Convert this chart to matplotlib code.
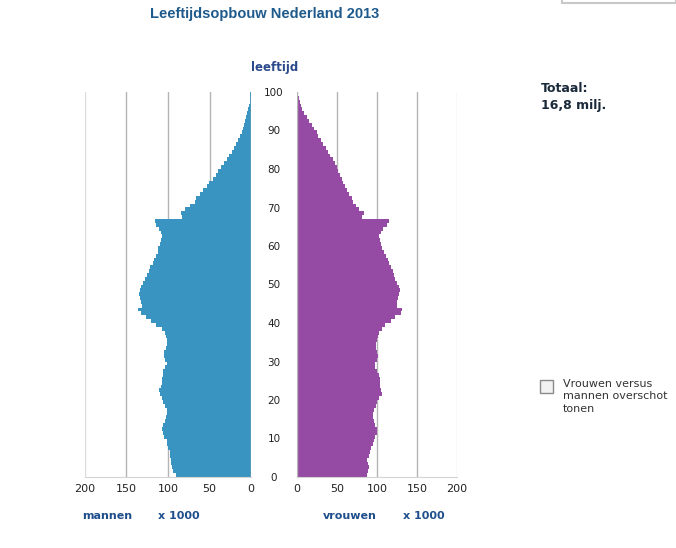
import matplotlib.pyplot as plt
from matplotlib.patches import Rectangle

# leeftijden 0 t/m 99, aantallen x 1000
ages = list(range(100))

mannen = [
    90, 93.5, 95.5, 96, 96, 97, 97.5, 99.5, 101, 101.5,
    104.5, 106.5, 107.5, 105.5, 103.5, 102.5, 101.5, 101.5, 103.5, 105.5,
    107.5, 110, 110.5, 109, 107.5, 107.5, 106.5, 105.5, 103.5, 101.5,
    103.5, 105, 104.5, 103, 101.5, 101.5, 102, 103.5, 107.5, 115,
    121, 127, 133, 136, 131, 132, 134, 135, 134, 132,
    130, 128, 125.5, 123, 121.5, 118.5, 116.5, 114.5, 112.5, 111.5,
    110, 108.5, 107.5, 108.5, 111, 114, 116, 83, 84.5, 79,
    73, 68, 66, 61, 58, 53, 51, 46, 42.5, 39.5,
    36, 32.5, 29.5, 26.5, 23, 20, 18, 15.5, 13, 11,
    9.5, 8, 7, 5.5, 4.5, 3.2, 2.4, 1.6, 1.2, 0.8,
]

vrouwen = [
    87, 89, 89.5, 89, 88, 89.5, 91, 93, 94.5, 96,
    97.5, 100, 99.5, 97.5, 96, 95.5, 94.5, 96, 99, 100.5,
    103, 106, 105, 104, 104, 104, 103, 100.5, 98, 97.5,
    99.5, 101.5, 100.5, 99, 99, 99.5, 101, 103, 106, 110,
    117, 122.5, 130, 131, 125.5, 125.5, 126, 128, 129, 128,
    125.5, 123, 121, 119.5, 118, 115.5, 113.5, 111, 109, 106.5,
    105, 103.5, 103, 104.5, 107, 112, 114.5, 81.5, 84, 78,
    74, 70.5, 69, 65.5, 62, 60, 58, 56, 54, 51.5,
    50.5, 47.5, 44.5, 41, 39, 36, 33, 29.5, 26.5, 24.5,
    21, 18.5, 15.5, 12, 9, 6.5, 4.5, 3.5, 2.5, 1.7,
]

x_ticks = [0, 50, 100, 150, 200]
age_ticks = list(range(0, 101, 10))

W, H = 676, 548
fig = plt.figure(figsize=(W / 100, H / 100), dpi=100)


def fx(px):
    return px / W


def fy(py):
    return 1 - py / H


ax_m = fig.add_axes([fx(85), fy(477), fx(251) - fx(85), (477 - 92) / H])
ax_v = fig.add_axes([fx(297), fy(477), fx(457) - fx(297), (477 - 92) / H])

for ax, data, kleur in [(ax_m, mannen, '#3a94c1'), (ax_v, vrouwen, '#954ba3')]:
    ax.barh(ages, data, height=1, align='edge', color=kleur, linewidth=0, zorder=2)
    ax.set_xlim(0, 200)
    ax.set_ylim(0, 100)
    for t in [50, 100, 150]:
        ax.axvline(t, color='#b4b4b4', lw=1, zorder=1)
    ax.axvline(200, color='#dcdcdc', lw=1, zorder=1)
    ax.axvline(0, color='#b4b4b4', lw=1, zorder=3)
    for s in ['top', 'left', 'right']:
        ax.spines[s].set_visible(False)
    ax.spines['bottom'].set_color('#d4d4d4')
    ax.set_xticks(x_ticks)
    ax.set_xticklabels([str(t) for t in x_ticks])
    ax.tick_params(axis='x', length=0, pad=5, labelsize=8, labelcolor='#222222')
    ax.set_yticks([])

ax_m.invert_xaxis()

# leeftijdslabels tussen de twee helften
ax_v.set_yticks(age_ticks)
ax_v.set_yticklabels([str(a) for a in age_ticks])
ax_v.tick_params(axis='y', length=0, pad=16.5, labelsize=7.5, labelcolor='#222222')
for lab in ax_v.get_yticklabels():
    lab.set_horizontalalignment('center')

fig.text(fx(265), fy(14), 'Leeftijdsopbouw Nederland 2013', ha='center', va='center',
         fontsize=10.5, fontweight='bold', color='#1e5a8c', family='Liberation Sans')
fig.text(fx(275), fy(67), 'leeftijd', ha='center', va='center',
         fontsize=8.5, fontweight='bold', color='#2a4a8c')

fig.text(fx(541), fy(88), 'Totaal:', ha='left', va='center',
         fontsize=9, fontweight='bold', color='#1a2a3a')
fig.text(fx(541), fy(105), '16,8 milj.', ha='left', va='center',
         fontsize=9, fontweight='bold', color='#1a2a3a')

blauw = '#1f4e8c'
fig.text(fx(82), fy(516), 'mannen', ha='left', va='center', fontsize=8, fontweight='bold', color=blauw)
fig.text(fx(158), fy(516), 'x 1000', ha='left', va='center', fontsize=8, fontweight='bold', color=blauw)
fig.text(fx(323), fy(516), 'vrouwen', ha='left', va='center', fontsize=8, fontweight='bold', color=blauw)
fig.text(fx(403), fy(516), 'x 1000', ha='left', va='center', fontsize=8, fontweight='bold', color=blauw)

# checkbox met tekst
fig.patches.append(Rectangle((fx(540), fy(393)), 13 / W, 13 / H, transform=fig.transFigure,
                             facecolor='#f2f2f2', edgecolor='#8a8a8a', lw=1))
fig.text(fx(563), fy(379), 'Vrouwen versus\nmannen overschot\ntonen', ha='left', va='top',
         fontsize=8, color='#333333', linespacing=1.3)

# rand van keuzelijst rechtsboven
fig.patches.append(Rectangle((fx(562), fy(3)), (W - 562) / W, 10 / H, transform=fig.transFigure,
                             facecolor='white', edgecolor='#c8c8c8', lw=1.5))

fig.savefig('out.png', dpi=100)
